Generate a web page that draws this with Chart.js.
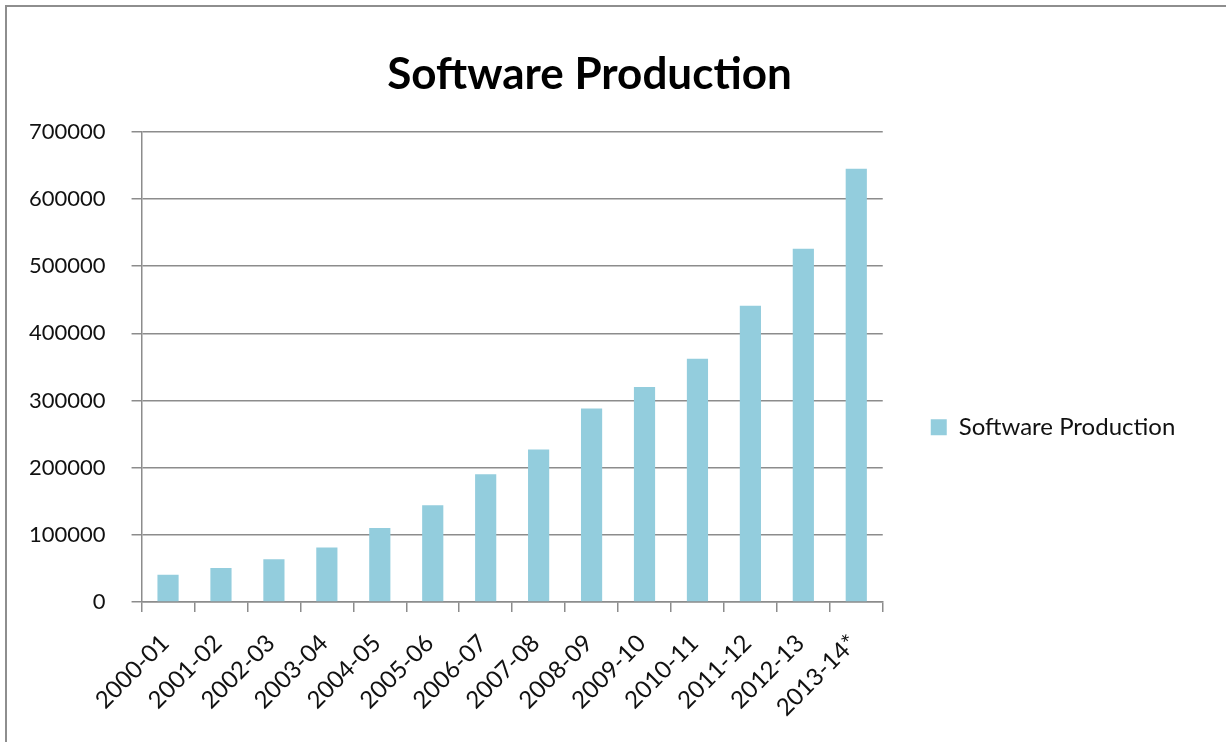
<!DOCTYPE html>
<html>
<head>
<meta charset="utf-8">
<title>Software Production</title>
<script src="https://cdn.jsdelivr.net/npm/chart.js@4.4.1/dist/chart.umd.min.js"></script>
<style>
  html, body { margin: 0; padding: 0; background: #fff; overflow: hidden; }
  #wrap { position: relative; width: 1226px; height: 742px; }
  #frame { position: absolute; left: 5px; top: 5px; width: 1300px; height: 800px;
           border-left: 2px solid #8e8e8e; border-top: 2px solid #8e8e8e; pointer-events: none; }
  canvas { position: absolute; left: 0; top: 0; }
</style>
</head>
<body>
<div id="wrap">
  <canvas id="chart" width="1226" height="742"></canvas>
  <div id="frame"></div>
</div>
<script>
// Fiscal years on the x axis
const years = ["2000-01", "2001-02", "2002-03", "2003-04", "2004-05", "2005-06", "2006-07",
               "2007-08", "2008-09", "2009-10", "2010-11", "2011-12", "2012-13", "2013-14*"];

// Software production per year
const production = [40500, 50500, 63800, 81000, 110300, 144000, 190000,
                    227000, 288000, 320000, 362000, 441000, 526000, 645000];

// Value axis ticks
const yTicks = [0, 100000, 200000, 300000, 400000, 500000, 600000, 700000];

const FONT = "Lato, Carlito, 'Open Sans', sans-serif";
const BAR = "#93cddd";
const GRID = "#8c8c8c";

Chart.defaults.font.family = FONT;
Chart.defaults.color = "#111";

new Chart(document.getElementById("chart"), {
  type: "bar",
  data: {
    labels: years,
    datasets: [{
      label: "Software Production",
      data: production,
      backgroundColor: BAR,
      categoryPercentage: 1.0,
      barPercentage: 0.4
    }]
  },
  options: {
    responsive: false,
    animation: false,
    layout: { padding: { left: 3, right: 50, top: 20, bottom: 0 } },
    plugins: {
      title: {
        display: true,
        text: "Software Production",
        font: { size: 44, weight: "bold", family: FONT },
        color: "#000",
        padding: { top: 28, bottom: 31 }
      },
      legend: {
        position: "right",
        // blank title only pushes the single legend entry lower
        title: { display: true, text: " ", padding: { top: 0, bottom: 66 }, font: { size: 22 } },
        labels: {
          boxWidth: 16,
          boxHeight: 16,
          padding: 48,
          font: { size: 24, family: FONT },
          color: "#111"
        }
      },
      tooltip: { enabled: false }
    },
    scales: {
      x: {
        // fixed band under the plot for the slanted year labels
        afterFit: (scale) => { scale.height = 140; },
        grid: { drawOnChartArea: false, drawTicks: true, tickLength: 10, color: GRID, lineWidth: 1.5, offset: true },
        border: { color: GRID, width: 1.5 },
        ticks: { maxRotation: 45, minRotation: 45, font: { size: 24 }, color: "#111", padding: 17, labelOffset: -3 }
      },
      y: {
        min: 0,
        max: 700000,
        afterBuildTicks: (axis) => { axis.ticks = yTicks.map(v => ({ value: v })); },
        grid: { color: GRID, lineWidth: 1.5, tickLength: 10 },
        border: { color: GRID, width: 1.5 },
        ticks: { font: { size: 22 }, color: "#111", padding: 26, callback: (v) => String(v) }
      }
    }
  }
});
</script>
</body>
</html>
